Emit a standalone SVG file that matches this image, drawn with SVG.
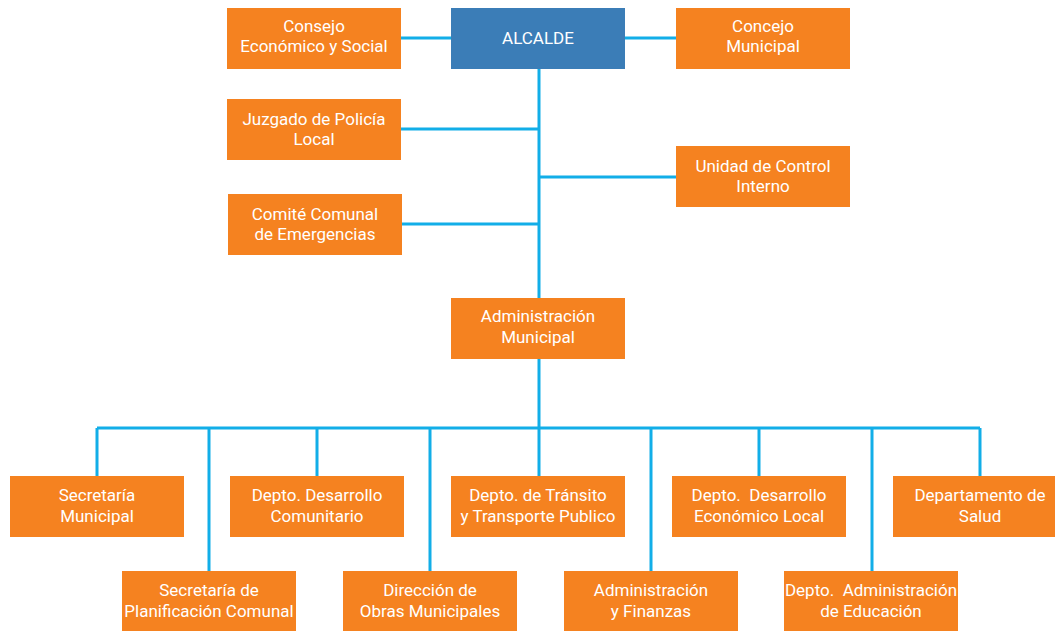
<svg xmlns="http://www.w3.org/2000/svg" width="1055" height="631" viewBox="0 0 1055 631">
<style>
.box{fill:#f58220}
.blue{fill:#3b7db7}
text{font-family:Roboto,"Liberation Sans",sans-serif;font-size:17px;fill:#ffffff;text-anchor:middle;white-space:pre}
.ln{stroke:#12aee8;stroke-width:3;fill:none}
</style>
<rect width="1055" height="631" fill="#ffffff"/>
<g id="connectors">
<path class="ln" d="M401 38H451M625 38H676M539 68V298M401 129H539M539 177H676M402 224H539M539 358V428M97 428H980M97 428V476M209 428V571M317 428V476M430 428V571M539 428V476M651 428V571M759 428V476M872 428V571M980 428V476"/>
</g>
<g id="consejo"><rect class="box" x="227" y="8" width="174" height="61"/><text x="314" y="32">Consejo</text><text x="314" y="52">Económico y Social</text></g>
<g id="alcalde"><rect class="blue" x="451" y="8" width="174" height="61"/><text x="538" y="44">ALCALDE</text></g>
<g id="concejo"><rect class="box" x="676" y="8" width="174" height="61"/><text x="763" y="32">Concejo</text><text x="763" y="52">Municipal</text></g>
<g id="juzgado"><rect class="box" x="227" y="99" width="174" height="61"/><text x="314" y="125">Juzgado de Policía</text><text x="314" y="145">Local</text></g>
<g id="unidad"><rect class="box" x="676" y="146" width="174" height="61"/><text x="763" y="172">Unidad de Control</text><text x="763" y="192">Interno</text></g>
<g id="comite"><rect class="box" x="228" y="194" width="174" height="61"/><text x="315" y="220">Comité Comunal</text><text x="315" y="240">de Emergencias</text></g>
<g id="admin-municipal"><rect class="box" x="451" y="298" width="174" height="61"/><text x="538" y="322">Administración</text><text x="538" y="343">Municipal</text></g>
<g id="secretaria-municipal"><rect class="box" x="10" y="476" width="174" height="61"/><text x="97" y="501">Secretaría</text><text x="97" y="522">Municipal</text></g>
<g id="desarrollo-comunitario"><rect class="box" x="230" y="476" width="174" height="61"/><text x="317" y="501">Depto. Desarrollo</text><text x="317" y="522">Comunitario</text></g>
<g id="transito"><rect class="box" x="451" y="476" width="174" height="61"/><text x="538" y="501">Depto. de Tránsito</text><text x="538" y="522">y Transporte Publico</text></g>
<g id="desarrollo-economico"><rect class="box" x="672" y="476" width="174" height="61"/><text x="759" y="501">Depto.  Desarrollo</text><text x="759" y="522">Económico Local</text></g>
<g id="salud"><rect class="box" x="893" y="476" width="162" height="61"/><text x="980" y="501">Departamento de</text><text x="980" y="522">Salud</text></g>
<g id="planificacion"><rect class="box" x="122" y="571" width="174" height="60"/><text x="209" y="596">Secretaría de</text><text x="209" y="617">Planificación Comunal</text></g>
<g id="obras"><rect class="box" x="343" y="571" width="174" height="60"/><text x="430" y="596">Dirección de</text><text x="430" y="617">Obras Municipales</text></g>
<g id="finanzas"><rect class="box" x="564" y="571" width="174" height="60"/><text x="651" y="596">Administración</text><text x="651" y="617">y Finanzas</text></g>
<g id="educacion"><rect class="box" x="784" y="571" width="174" height="60"/><text x="871" y="596">Depto.  Administración</text><text x="871" y="617">de Educación</text></g>
</svg>
